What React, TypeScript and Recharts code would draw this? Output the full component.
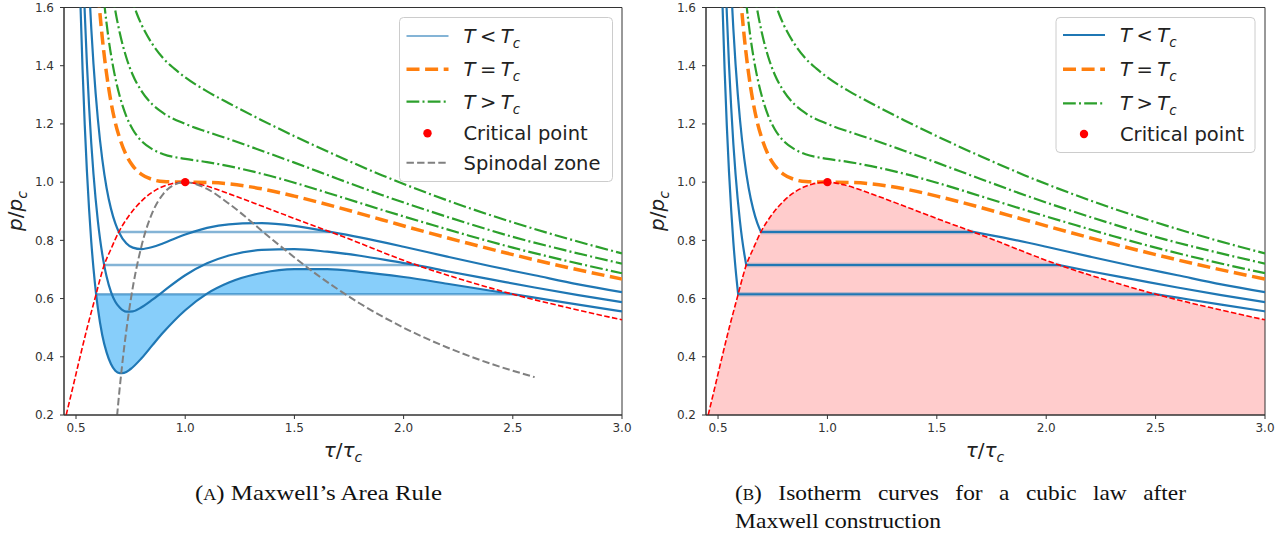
import React from "react";
import {
  ComposedChart,
  Line,
  Area,
  Scatter,
  XAxis,
  YAxis,
  ReferenceArea,
} from "recharts";

type Pt = [number, number];

const xTicks = [0.5, 1.0, 1.5, 2.0, 2.5, 3.0];
const yTicks = [0.2, 0.4, 0.6, 0.8, 1.0, 1.2, 1.4, 1.6];
const xDomain: [number, number] = [0.445, 3.0];
const yDomain: [number, number] = [0.2, 1.6];

// isotherms below Tc, coldest first
const isoLow: Pt[] = [
  [0.51, 1.9], [0.52, 1.619], [0.53, 1.388], [0.54, 1.196], [0.55, 1.037],
  [0.56, 0.905], [0.57, 0.794], [0.58, 0.704], [0.592, 0.615], [0.6, 0.567],
  [0.62, 0.475], [0.64, 0.415], [0.66, 0.375], [0.68, 0.352], [0.7, 0.344],
  [0.72, 0.345], [0.75, 0.358], [0.8, 0.395], [0.85, 0.44], [0.9, 0.484],
  [1.0, 0.56], [1.1, 0.617], [1.2, 0.655], [1.35, 0.688], [1.5, 0.701],
  [1.65, 0.701], [1.8, 0.692], [2.0, 0.674], [2.2, 0.651], [2.4, 0.627],
  [2.5, 0.615], [2.6, 0.603], [2.8, 0.579], [3.0, 0.556],
];
const isoMid: Pt[] = [
  [0.53, 1.795], [0.54, 1.583], [0.55, 1.406], [0.56, 1.258], [0.57, 1.132],
  [0.58, 1.028], [0.6, 0.867], [0.61, 0.805], [0.62, 0.754], [0.629, 0.715],
  [0.64, 0.676], [0.66, 0.623], [0.68, 0.589], [0.7, 0.569], [0.73, 0.555],
  [0.76, 0.556], [0.8, 0.57], [0.85, 0.596], [0.9, 0.625], [1.0, 0.68],
  [1.1, 0.721], [1.2, 0.748], [1.35, 0.767], [1.5, 0.77], [1.65, 0.761],
  [1.8, 0.747], [2.0, 0.722], [2.06, 0.715], [2.2, 0.694], [2.4, 0.666],
  [2.6, 0.638], [2.8, 0.612], [3.0, 0.588],
];
const isoHigh: Pt[] = [
  [0.54, 2.035], [0.55, 1.837], [0.56, 1.669], [0.57, 1.527], [0.58, 1.406],
  [0.59, 1.304], [0.6, 1.217], [0.62, 1.08], [0.64, 0.98], [0.66, 0.909],
  [0.68, 0.858], [0.696, 0.829], [0.73, 0.79], [0.76, 0.775], [0.8, 0.77],
  [0.85, 0.777], [0.9, 0.79], [1.0, 0.82], [1.1, 0.843], [1.2, 0.855],
  [1.35, 0.859], [1.5, 0.85], [1.665, 0.829], [1.8, 0.81], [2.0, 0.778],
  [2.2, 0.744], [2.4, 0.711], [2.6, 0.68], [2.8, 0.649], [3.0, 0.622],
];
// critical isotherm
const isoCrit: Pt[] = [
  [0.59, 1.772], [0.6, 1.667], [0.62, 1.498], [0.64, 1.372], [0.66, 1.276],
  [0.68, 1.204], [0.7, 1.151], [0.73, 1.093], [0.76, 1.056], [0.8, 1.027],
  [0.85, 1.009], [0.9, 1.002], [1.0, 1.0], [1.1, 0.999], [1.2, 0.994],
  [1.35, 0.977], [1.5, 0.952], [1.7, 0.913], [1.9, 0.871], [2.1, 0.829],
  [2.3, 0.789], [2.5, 0.751], [2.75, 0.707], [3.0, 0.667],
];
// isotherms above Tc
const isoHot1: Pt[] = [
  [0.61, 1.769], [0.63, 1.61], [0.65, 1.488], [0.67, 1.396], [0.7, 1.296],
  [0.73, 1.227], [0.76, 1.181], [0.8, 1.141], [0.85, 1.113], [0.9, 1.096],
  [1.0, 1.08], [1.1, 1.069], [1.2, 1.055], [1.35, 1.029], [1.5, 0.998],
  [1.7, 0.952], [1.9, 0.905], [2.1, 0.86], [2.3, 0.816], [2.5, 0.775],
  [2.75, 0.729], [3.0, 0.687],
];
const isoHot2: Pt[] = [
  [0.64, 1.806], [0.66, 1.684], [0.68, 1.589], [0.7, 1.514], [0.73, 1.429],
  [0.76, 1.368], [0.8, 1.313], [0.85, 1.267], [0.9, 1.237], [1.0, 1.2],
  [1.1, 1.173], [1.2, 1.148], [1.35, 1.108], [1.5, 1.067], [1.7, 1.011],
  [1.9, 0.956], [2.1, 0.905], [2.3, 0.857], [2.5, 0.812], [2.75, 0.764],
  [3.0, 0.72],
];
const isoHot3: Pt[] = [
  [0.72, 1.73], [0.74, 1.67], [0.76, 1.618], [0.78, 1.576], [0.8, 1.541],
  [0.85, 1.474], [0.9, 1.425], [0.95, 1.39], [1.0, 1.36], [1.1, 1.312],
  [1.2, 1.271], [1.35, 1.213], [1.5, 1.158], [1.7, 1.089], [1.9, 1.024],
  [2.1, 0.965], [2.3, 0.911], [2.5, 0.862], [2.75, 0.806], [3.0, 0.755],
];

// coexistence (binodal) and spinodal curves
const binodal: Pt[] = [
  [0.455, 0.2], [0.487, 0.3], [0.517, 0.395], [0.553, 0.505], [0.592, 0.615],
  [0.603, 0.647], [0.629, 0.715], [0.66, 0.77], [0.696, 0.829], [0.74, 0.882],
  [0.8, 0.935], [0.87, 0.975], [0.93, 0.993], [1.0, 1.0], [1.08, 0.99],
  [1.2, 0.96], [1.35, 0.918], [1.5, 0.875], [1.665, 0.829], [1.725, 0.812],
  [2.06, 0.715], [2.349, 0.647], [2.5, 0.615], [2.75, 0.569], [3.0, 0.527],
];
const spinodal: Pt[] = [
  [0.688, 0.197], [0.7, 0.292], [0.71, 0.363], [0.72, 0.429], [0.73, 0.488],
  [0.75, 0.593], [0.8, 0.781], [0.85, 0.896], [0.9, 0.96], [0.95, 0.991],
  [1.0, 1.0], [1.1, 0.977], [1.2, 0.926], [1.4, 0.802], [1.6, 0.684],
  [1.8, 0.583], [2.0, 0.5], [2.2, 0.432], [2.4, 0.376], [2.6, 0.33],
];
const criticalPoint: Pt[] = [[1.0, 1.0]];

// Maxwell plateaus (same order as the subcritical isotherms)
const plateauP = [0.615, 0.715, 0.829];
const plateauLiquid = [0.592, 0.629, 0.696];
const plateauGas = [2.5, 2.06, 1.665];

const BLUE = "#1f77b4";
const ORANGE = "#ff7f0e";
const GREEN = "#2ca02c";
const FONT = "'DejaVu Sans', sans-serif";
const SERIF = "'Liberation Serif', 'DejaVu Serif', serif";

const pts = (a: Pt[]) => a.map(([x, y]) => ({ x, y }));
const fmt = (v: number) => v.toFixed(1);
const tickStyle = { fill: "#333", fontSize: 12, fontFamily: FONT };

function Panel({ maxwell }: { maxwell: boolean }) {
  const subcritical = [isoLow, isoMid, isoHigh];
  const hot = [isoHot1, isoHot2, isoHot3];
  const lowFill = isoLow.filter(
    ([x]) => x >= plateauLiquid[0] && x <= plateauGas[0]
  );

  return (
    <ComposedChart
      width={640}
      height={470}
      margin={{ top: 7.5, right: maxwell ? 17 : 18, bottom: 25, left: 20 }}
    >
      <XAxis
        type="number"
        dataKey="x"
        domain={xDomain}
        allowDataOverflow
        ticks={xTicks}
        interval={0}
        tickFormatter={fmt}
        tick={tickStyle}
        tickSize={4}
        tickMargin={4}
        stroke="#333"
        height={30}
      />
      <YAxis
        type="number"
        dataKey="y"
        domain={yDomain}
        allowDataOverflow
        ticks={yTicks}
        interval={0}
        tickFormatter={fmt}
        tick={tickStyle}
        tickSize={4}
        tickMargin={6}
        stroke="#333"
        width={44}
      />

      {maxwell ? (
        <Area
          data={pts(binodal)}
          dataKey="y"
          type="monotone"
          baseValue={0.2}
          stroke="none"
          fill="red"
          fillOpacity={0.2}
          isAnimationActive={false}
        />
      ) : (
        <Area
          data={pts(lowFill)}
          dataKey="y"
          type="monotone"
          baseValue={plateauP[0]}
          stroke="none"
          fill="#87cefa"
          fillOpacity={1}
          isAnimationActive={false}
        />
      )}

      {/* subcritical isotherms */}
      {subcritical.map((iso, i) => {
        const tie = pts([
          [plateauLiquid[i], plateauP[i]],
          [plateauGas[i], plateauP[i]],
        ]);
        if (!maxwell) {
          return [
            <Line
              key={`tie${i}`}
              data={tie}
              dataKey="y"
              type="linear"
              stroke={BLUE}
              strokeOpacity={0.55}
              strokeWidth={2.5}
              dot={false}
              activeDot={false}
              isAnimationActive={false}
            />,
            <Line
              key={`iso${i}`}
              data={pts(iso)}
              dataKey="y"
              type="monotone"
              stroke={BLUE}
              strokeWidth={2.2}
              dot={false}
              activeDot={false}
              isAnimationActive={false}
            />,
          ];
        }
        const liquid = iso.filter(([x]) => x <= plateauLiquid[i] + 1e-9);
        const gas = iso.filter(([x]) => x >= plateauGas[i] - 1e-9);
        return [
          <Line
            key={`halo${i}`}
            data={tie}
            dataKey="y"
            type="linear"
            stroke={BLUE}
            strokeOpacity={0.3}
            strokeWidth={4.5}
            dot={false}
            activeDot={false}
            isAnimationActive={false}
          />,
          <Line
            key={`liq${i}`}
            data={pts(liquid)}
            dataKey="y"
            type="monotone"
            stroke={BLUE}
            strokeWidth={2.2}
            strokeLinecap="round"
            dot={false}
            activeDot={false}
            isAnimationActive={false}
          />,
          <Line
            key={`tieB${i}`}
            data={tie}
            dataKey="y"
            type="linear"
            stroke={BLUE}
            strokeWidth={2}
            strokeLinecap="round"
            dot={false}
            activeDot={false}
            isAnimationActive={false}
          />,
          <Line
            key={`gas${i}`}
            data={pts(gas)}
            dataKey="y"
            type="monotone"
            stroke={BLUE}
            strokeWidth={2.2}
            strokeLinecap="round"
            dot={false}
            activeDot={false}
            isAnimationActive={false}
          />,
        ];
      })}

      <Line
        data={pts(isoCrit)}
        dataKey="y"
        type="monotone"
        stroke={ORANGE}
        strokeWidth={3.5}
        strokeDasharray="13 5.6"
        dot={false}
        activeDot={false}
        isAnimationActive={false}
      />
      {hot.map((iso, i) => (
        <Line
          key={`hot${i}`}
          data={pts(iso)}
          dataKey="y"
          type="monotone"
          stroke={GREEN}
          strokeWidth={2.2}
          strokeDasharray="12.8 3.2 2 3.2"
          dot={false}
          activeDot={false}
          isAnimationActive={false}
        />
      ))}

      <Line
        data={pts(binodal)}
        dataKey="y"
        type="monotone"
        stroke="red"
        strokeWidth={1.6}
        strokeDasharray="5.5 2.4"
        dot={false}
        activeDot={false}
        isAnimationActive={false}
      />
      {!maxwell && (
        <Line
          data={pts(spinodal)}
          dataKey="y"
          type="monotone"
          stroke="gray"
          strokeWidth={2}
          strokeDasharray="7.4 3.2"
          dot={false}
          activeDot={false}
          isAnimationActive={false}
        />
      )}

      <Scatter
        data={pts(criticalPoint)}
        dataKey="y"
        isAnimationActive={false}
        shape={(p: any) => <circle cx={p.cx} cy={p.cy} r={4.2} fill="red" />}
      />

      <ReferenceArea
        x1={xDomain[0]}
        x2={xDomain[1]}
        y1={yDomain[0]}
        y2={yDomain[1]}
        fill="none"
        fillOpacity={0}
        stroke="#333"
        strokeWidth={1}
      />
    </ComposedChart>
  );
}

function Rel({ x, y, rel }: { x: number; y: number; rel: string }) {
  return (
    <text x={x} y={y} fontFamily={FONT} fontSize={19.5} fill="#222">
      <tspan fontStyle="italic">T</tspan>
      <tspan dx={4.5}>{rel}</tspan>
      <tspan dx={4.5} fontStyle="italic">T</tspan>
      <tspan fontStyle="italic" fontSize={13.5} dy={5}>c</tspan>
    </text>
  );
}

type Entry = { label: string; kind: "sub" | "crit" | "hot" | "dot" | "spin" };

function LegendBox({
  left,
  top,
  width,
  height,
  rows,
  entries,
  subOpacity,
}: {
  left: number;
  top: number;
  width: number;
  height: number;
  rows: number[];
  entries: Entry[];
  subOpacity: number;
}) {
  const x0 = left + 7;
  const x1 = left + 49;
  const tx = left + 64;
  return (
    <g>
      <rect
        x={left}
        y={top}
        width={width}
        height={height}
        rx={4}
        fill="#fff"
        fillOpacity={0.85}
        stroke="#ccc"
      />
      {entries.map((e, i) => {
        const cy = rows[i];
        let sample: React.ReactNode = null;
        if (e.kind === "sub")
          sample = <line x1={x0} x2={x1} y1={cy} y2={cy} stroke={BLUE} strokeWidth={2} strokeOpacity={subOpacity} />;
        if (e.kind === "crit")
          sample = <line x1={x0} x2={x1} y1={cy} y2={cy} stroke={ORANGE} strokeWidth={3.5} strokeDasharray="13 5.6" />;
        if (e.kind === "hot")
          sample = <line x1={x0} x2={x1} y1={cy} y2={cy} stroke={GREEN} strokeWidth={2.2} strokeDasharray="12.8 3.2 2 3.2" />;
        if (e.kind === "dot") sample = <circle cx={(x0 + x1) / 2} cy={cy} r={4.2} fill="red" />;
        if (e.kind === "spin")
          sample = <line x1={x0} x2={x1} y1={cy} y2={cy} stroke="gray" strokeWidth={2} strokeDasharray="7.4 3.2" />;
        const label =
          e.label === "<" || e.label === "=" || e.label === ">" ? (
            <Rel x={tx} y={cy + 7} rel={e.label} />
          ) : (
            <text x={tx} y={cy + 7} fontFamily={FONT} fontSize={19.5} fill="#222">
              {e.label}
            </text>
          );
        return (
          <g key={i}>
            {sample}
            {label}
          </g>
        );
      })}
    </g>
  );
}

function AxisTitles({ plotLeft }: { plotLeft: number }) {
  const cx = plotLeft + 279;
  const ly = plotLeft - 42;
  return (
    <g fontFamily={FONT} fill="#222">
      <text x={cx} y={457} fontSize={20} textAnchor="middle">
        <tspan fontStyle="italic">τ</tspan>
        <tspan>/</tspan>
        <tspan fontStyle="italic">τ</tspan>
        <tspan fontStyle="italic" fontSize={14} dy={5}>c</tspan>
      </text>
      <text
        x={ly}
        y={211}
        fontSize={20}
        textAnchor="middle"
        transform={`rotate(-90 ${ly} 211)`}
      >
        <tspan fontStyle="italic">p</tspan>
        <tspan>/</tspan>
        <tspan fontStyle="italic">p</tspan>
        <tspan fontStyle="italic" fontSize={14} dy={5}>c</tspan>
      </text>
    </g>
  );
}

const legendA: Entry[] = [
  { label: "<", kind: "sub" },
  { label: "=", kind: "crit" },
  { label: ">", kind: "hot" },
  { label: "Critical point", kind: "dot" },
  { label: "Spinodal zone", kind: "spin" },
];
const legendB: Entry[] = legendA.slice(0, 4);

export default function App() {
  return (
    <div
      style={{
        position: "absolute",
        left: 0,
        top: 0,
        width: 1282,
        height: 540,
        background: "#fff",
        overflow: "hidden",
      }}
    >
      <div style={{ position: "absolute", left: 0, top: 0 }}>
        <Panel maxwell={false} />
      </div>
      <div style={{ position: "absolute", left: 642, top: 0 }}>
        <Panel maxwell={true} />
      </div>
      <svg
        width={1282}
        height={540}
        style={{ position: "absolute", left: 0, top: 0, pointerEvents: "none" }}
      >
        <AxisTitles plotLeft={64} />
        <AxisTitles plotLeft={706} />
        <LegendBox
          left={399.5}
          top={17.5}
          width={213}
          height={164}
          rows={[36, 69.3, 101.7, 133.3, 162.7]}
          entries={legendA}
          subOpacity={0.55}
        />
        <LegendBox
          left={1056}
          top={17.5}
          width={199}
          height={135}
          rows={[35, 69.3, 103.3, 134]}
          entries={legendB}
          subOpacity={1}
        />
        <g fontFamily={SERIF} fontSize={22} fill="#111">
          <text x={195} y={500} textLength={247} lengthAdjust="spacingAndGlyphs">
            (<tspan fontSize={16}>A</tspan>) Maxwell’s Area Rule
          </text>
          <text
            x={735}
            y={500}
            textLength={451}
            lengthAdjust="spacingAndGlyphs"
            style={{ wordSpacing: 10 }}
          >
            (<tspan fontSize={16}>B</tspan>) Isotherm curves for a cubic law after
          </text>
          <text x={735} y={528} textLength={206} lengthAdjust="spacingAndGlyphs">
            Maxwell construction
          </text>
        </g>
      </svg>
    </div>
  );
}
